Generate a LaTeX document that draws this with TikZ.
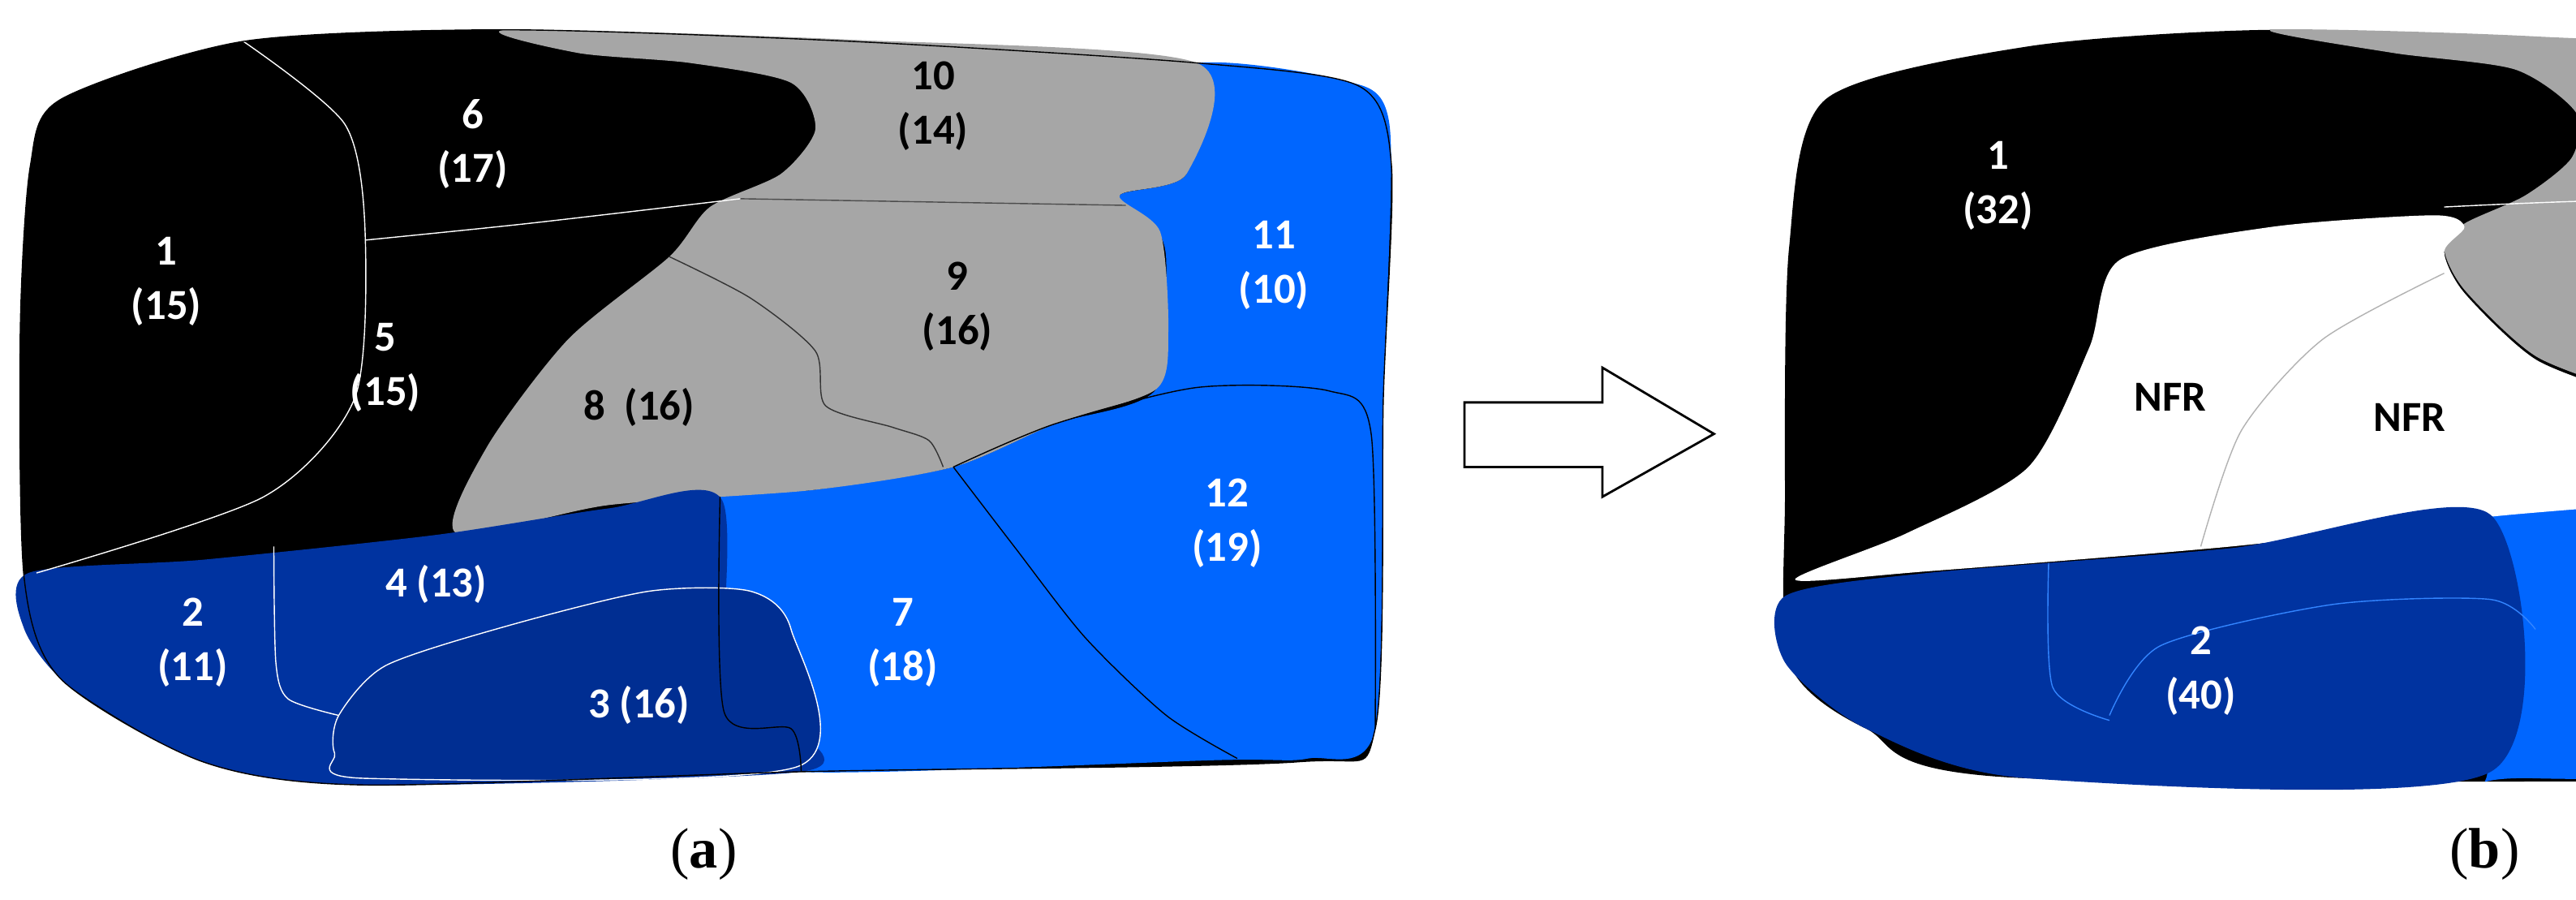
\documentclass[tikz,border=0pt]{standalone}
\usepackage{fontspec}
\newfontfamily\labfont{Carlito}
\newfontfamily\capfont{Liberation Serif}
\definecolor{gr}{HTML}{A6A6A6}
\definecolor{lb}{HTML}{0066FF}
\definecolor{db}{HTML}{0033A0}
\definecolor{db3}{HTML}{002E92}
\begin{document}
\begin{tikzpicture}[x=0.025cm,y=-0.0204cm,
  lbl/.style={font=\labfont\bfseries\fontsize{15}{19}\selectfont,align=center},
  wl/.style={lbl,text=white}, bl/.style={lbl,text=black},
  sm/.style={smooth, tension=0.45},
  smc/.style={smooth cycle, tension=0.45}]
\useasboundingbox (0,0) rectangle (1270,543);
% ---------- (a) ----------
\fill[black] plot[smc] coordinates {(30,60) (120,25) (250,18) (420,25) (590,38) (670,52) (686,100) (682,240) (678,440) (640,460) (395,466) (180,474) (100,460) (30,410) (12,350) (10,200) (15,100)};
\fill[lb] plot[smc] coordinates {(585,40) (660,48) (685,75) (682,240) (678,440) (645,458) (600,459) (395,466) (390,440) (357,430) (355,300) (400,296) (470,282) (520,256) (570,235) (575,160) (570,138) (552,118) (585,105)};
\fill[gr] plot[smc] coordinates {(250,18) (420,24) (590,38) (585,105) (552,118) (572,140) (576,200) (570,235) (520,256) (470,282) (400,296) (300,305) (225,322) (240,270) (280,205) (330,155) (350,125) (385,105) (402,78) (390,50) (340,38) (285,32)};
\fill[db] plot[smc] coordinates {(14,346) (100,338) (215,323) (300,307) (356,302) (357,430) (390,440) (395,466) (180,474) (100,460) (35,415) (12,380)};
\draw[white,fill=db3] plot[smc] coordinates {(167,432) (190,402) (250,378) (320,357) (370,357) (390,380) (393,463) (180,470) (165,455)};
\draw[white] plot[sm] coordinates {(135,330) (136,400) (142,422) (167,432)};
\draw[white] plot[sm] coordinates {(120,25) (170,75) (180,140) (175,240) (130,300) (18,346)};
\draw[white] plot[sm] coordinates {(180,145) (260,135) (365,120)};
\draw[black!70] plot[sm] coordinates {(365,120) (460,122) (555,124)};
\draw[black!80] plot[sm] coordinates {(330,155) (370,180) (402,212) (407,245) (440,258) (458,266) (465,282)};
\draw[black] plot[sm] coordinates {(470,282) (520,256) (590,234) (655,236) (676,262) (678,440)};
\draw[black] plot[sm] coordinates {(470,282) (500,330) (535,385) (575,432) (610,458)};
\draw[black] plot[sm] coordinates {(355,300) (357,430) (390,440) (395,466)};
\draw[black] plot[smc] coordinates {(30,60) (120,25) (250,18) (420,25) (590,38) (670,52) (686,100) (682,240) (678,440) (640,460) (395,466) (180,474) (100,460) (30,410) (12,350) (10,200) (15,100)};
\node[wl] (l6) at (233,87) {6\\(17)};
\node[bl] (l10) at (460,64) {10\\(14)};
\node[wl] (l1) at (82,170) {1\\(15)};
\node[wl] (l5) at (190,222) {5\\(15)};
\node[bl] (l9) at (472,185) {9\\(16)};
\node[wl] (l11) at (628,160) {11\\(10)};
\node[bl] (l8) at (315,246) {8~~(16)};
\node[wl] (l12) at (605,316) {12\\(19)};
\node[wl] (l2) at (95,388) {2\\(11)};
\node[wl] (l4) at (215,353) {4 (13)};
\node[wl] (l7) at (445,388) {7\\(18)};
\node[wl] (l3) at (315,426) {3 (16)};
% arrow
\draw[black,fill=white,line width=0.8pt] (722,243) -- (790,243) -- (790,222) -- (845,262) -- (790,300) -- (790,282) -- (722,282) -- cycle;
% ---------- (b) ----------
\fill[black] plot[smc] coordinates {(900,60) (1000,28) (1120,18) (1250,25) (1430,38) (1540,52) (1563,100) (1555,460) (1520,470) (1000,470) (920,440) (882,400) (880,300) (882,150)};
\fill[lb] plot[smc] coordinates {(1430,38) (1540,52) (1563,100) (1555,460) (1520,470) (1250,470) (1226,460) (1228,310) (1320,300) (1340,290) (1420,240) (1445,230) (1440,140) (1420,125) (1440,100)};
\fill[gr] plot[smc] coordinates {(1120,18) (1250,22) (1430,38) (1440,100) (1420,125) (1440,140) (1445,230) (1420,240) (1340,290) (1330,268) (1300,240) (1250,215) (1215,175) (1205,150) (1215,135) (1245,118) (1268,95) (1270,68) (1240,42) (1180,32)};
\fill[white] plot[smc] coordinates {(885,350) (940,322) (1000,282) (1030,210) (1045,157) (1120,137) (1200,130) (1215,137) (1205,152) (1215,177) (1250,217) (1300,242) (1330,270) (1340,292) (1320,302) (1228,312) (1100,330) (950,345)};
\fill[db] plot[smc] coordinates {(880,360) (950,346) (1100,331) (1228,311) (1228,466) (1000,470) (920,440) (880,400)};
\draw[white] plot[sm] coordinates {(1205,125) (1300,121) (1420,128)};
\draw[black!30] plot[sm] coordinates {(1205,165) (1145,205) (1105,260) (1085,330)};
\draw[lb!80] plot[sm] coordinates {(1010,340) (1012,415) (1040,435)};
\draw[lb!80] plot[sm] coordinates {(1040,432) (1065,390) (1150,365) (1228,362) (1250,380)};
\draw[db] plot[sm] coordinates {(1340,290) (1385,340) (1430,400) (1465,445)};
\node[wl] (r1) at (985,112) {1\\(32)};
\node[bl] (r3) at (1345,142) {3\\(30)};
\node[bl] (n1) at (1070,240) {NFR};
\node[bl] (n2) at (1188,252) {NFR};
\node[wl] (r2) at (1085,405) {2\\(40)};
\node[wl] (r4) at (1405,356) {4\\(47)};
% captions
\node[font=\capfont\fontsize{20}{24}\selectfont] (ca) at (347,516) {(\textbf{a})};
\node[font=\capfont\fontsize{20}{24}\selectfont] (cb) at (1225,516) {(\textbf{b})};
\end{tikzpicture}
\end{document}
